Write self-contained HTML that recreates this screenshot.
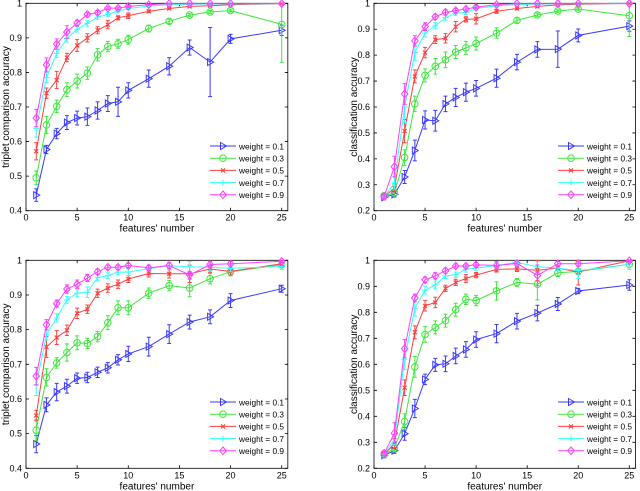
<!DOCTYPE html>
<html><head><meta charset="utf-8">
<style>
html,body{margin:0;padding:0;background:#fff;}
svg{display:block;font-family:"Liberation Sans",sans-serif;}
</style></head>
<body>
<svg id="fig" width="640" height="491" viewBox="0 0 640 491" xmlns="http://www.w3.org/2000/svg"></svg>
<script>
const xs = [1,2,3,4,5,6,7,8,9,10,12,14,16,18,20,25];
const seriesLabels = ["weight = 0.1","weight = 0.3","weight = 0.5","weight = 0.7","weight = 0.9"];
const xTicks = [0,5,10,15,20,25];

// top-left: triplet accuracy
const tl_w1 = [.445,.577,.623,.655,.668,.672,.69,.71,.715,.748,.782,.818,.872,.83,.897,.922];
const tl_w3 = [.495,.648,.702,.75,.775,.798,.851,.875,.883,.895,.927,.948,.966,.975,.979,.939];
const tl_w5 = [.572,.74,.778,.843,.878,.9,.922,.938,.958,.964,.977,.985,.991,.993,.996,.999];
const tl_w7 = [.638,.785,.855,.898,.925,.942,.96,.968,.978,.985,.992,.996,.997,.998,.998,.999];
const tl_w9 = [.668,.822,.882,.917,.943,.968,.973,.986,.986,.991,.996,.999,.999,.999,.999,.999];
const tl_e1 = [.018,.012,.015,.02,.02,.025,.025,.023,.042,.022,.025,.025,.022,.1,.013,.015];
const tl_e3 = [.02,.025,.018,.02,.02,.018,.018,.015,.013,.013,.01,.006,.004,.004,.004,.11];
const tl_e5 = [.025,.015,.025,.012,.017,.012,.01,.012,.006,.008,.004,.003,.003,.002,.002,.001];
const tl_e7 = [.025,.015,.012,.01,.008,.008,.006,.005,.004,.003,.002,.002,.001,.001,.001,.001];
const tl_e9 = [.025,.02,.015,.018,.008,.005,.006,.004,.004,.003,.002,.001,.001,.001,.001,.001];

// top-right: classification accuracy
const tr_w1 = [.252,.263,.33,.432,.55,.547,.612,.637,.657,.672,.711,.773,.822,.823,.876,.912];
const tr_w3 = [.258,.268,.405,.612,.722,.757,.782,.812,.828,.845,.885,.934,.955,.97,.978,.952];
const tr_w5 = [.253,.288,.507,.718,.81,.86,.865,.91,.938,.94,.969,.98,.988,.994,.996,1];
const tr_w7 = [.252,.308,.6,.81,.885,.913,.945,.962,.965,.98,.99,.995,.997,.998,.998,1];
const tr_w9 = [.255,.37,.65,.855,.91,.948,.965,.972,.978,.985,.995,.999,.999,.999,.999,.999];
const tr_e1 = [.008,.01,.025,.04,.035,.04,.03,.035,.035,.03,.035,.03,.03,.07,.025,.02];
const tr_e3 = [.01,.01,.03,.03,.025,.03,.03,.025,.025,.025,.02,.01,.007,.005,.005,.08];
const tr_e5 = [.008,.015,.045,.025,.02,.015,.018,.02,.01,.02,.008,.005,.004,.003,.002,.001];
const tr_e7 = [.008,.025,.06,.03,.015,.012,.01,.008,.008,.006,.004,.002,.002,.001,.001,.001];
const tr_e9 = [.008,.04,.04,.02,.015,.01,.01,.008,.008,.006,.004,.002,.001,.001,.001,.001];

// bottom-left: triplet accuracy
const bl_w1 = [.47,.583,.62,.637,.66,.662,.677,.69,.713,.73,.751,.787,.822,.837,.884,.918];
const bl_w3 = [.51,.662,.704,.734,.762,.76,.78,.82,.863,.863,.905,.927,.92,.947,.967,.987];
const bl_w5 = [.552,.75,.777,.798,.847,.859,.905,.92,.931,.946,.962,.961,.961,.975,.968,.99];
const bl_w7 = [.64,.785,.834,.886,.905,.908,.95,.956,.966,.966,.976,.984,.981,.98,.977,.982];
const bl_w9 = [.666,.814,.875,.917,.931,.949,.967,.98,.98,.985,.978,.985,.958,.988,.99,.997];
const bl_e1 = [.025,.02,.025,.02,.015,.015,.015,.015,.015,.022,.027,.027,.02,.02,.02,.01];
const bl_e3 = [.03,.025,.015,.025,.02,.015,.015,.02,.02,.02,.015,.015,.025,.015,.012,.008];
const bl_e5 = [.015,.03,.02,.015,.015,.012,.012,.012,.012,.01,.01,.012,.025,.01,.01,.005];
const bl_e7 = [.03,.015,.012,.01,.01,.015,.008,.008,.008,.01,.008,.01,.015,.01,.01,.008];
const bl_e9 = [.025,.015,.01,.012,.012,.01,.008,.006,.006,.006,.008,.008,.01,.008,.006,.004];

// bottom-right: classification accuracy
const br_w1 = [.25,.268,.333,.43,.542,.598,.602,.632,.657,.695,.718,.766,.797,.832,.882,.905];
const br_w3 = [.252,.278,.38,.59,.715,.742,.768,.81,.85,.845,.882,.915,.908,.952,.957,.985];
const br_w5 = [.253,.295,.51,.723,.825,.838,.892,.915,.93,.943,.965,.967,.962,.97,.955,.998];
const br_w7 = [.255,.31,.62,.815,.885,.905,.94,.945,.965,.97,.98,.992,.975,.97,.96,.985];
const br_w9 = [.258,.335,.66,.855,.925,.94,.96,.978,.978,.983,.98,.988,.942,.987,.987,.998];
const br_e1 = [.01,.01,.025,.035,.02,.025,.03,.03,.03,.03,.035,.03,.03,.025,.01,.02];
const br_e3 = [.01,.015,.03,.04,.03,.025,.025,.025,.02,.02,.035,.015,.06,.015,.01,.02];
const br_e5 = [.01,.02,.03,.025,.02,.02,.012,.012,.015,.01,.01,.01,.04,.01,.05,.005];
const br_e7 = [.01,.02,.04,.03,.015,.015,.01,.01,.01,.01,.01,.008,.02,.01,.03,.02];
const br_e9 = [.01,.04,.035,.015,.01,.012,.01,.008,.008,.008,.015,.01,.04,.008,.01,.005];

const colors = ["#3a3aff","#3ee83e","#ff4040","#3ff","#ff40ff"];
const markers = ["tri","circ","x","plus","diam"];
const NS = "http://www.w3.org/2000/svg";
const svg = document.getElementById("fig");

function mk(tag, attrs, parent){
  const e = document.createElementNS(NS, tag);
  for (const k in attrs) e.setAttribute(k, attrs[k]);
  (parent||svg).appendChild(e);
  return e;
}

function marker(g, type, x, y, c){
  let m;
  if (type==="tri") m = mk("polygon",{points:`${x-2.5},${y-3.5} ${x+3.5},${y} ${x-2.5},${y+3.5}`,fill:"none",stroke:c,"stroke-width":1},g);
  else if (type==="circ") m = mk("circle",{cx:x,cy:y,r:3.3,fill:"none",stroke:c,"stroke-width":1},g);
  else if (type==="x") m = mk("path",{d:`M${x-2},${y-2}L${x+2},${y+2}M${x-2},${y+2}L${x+2},${y-2}`,stroke:c,"stroke-width":1.2},g);
  else if (type==="plus") m = mk("path",{d:`M${x-3},${y}L${x+3},${y}M${x},${y-3}L${x},${y+3}`,stroke:c,"stroke-width":1},g);
  else m = mk("polygon",{points:`${x},${y-3.8} ${x+3.3},${y} ${x},${y+3.8} ${x-3.3},${y}`,fill:"none",stroke:c,"stroke-width":1},g);
  
  
}

function panel(id, px0, px25, top, bot, ymin, ticks, ylabel, series, errs, legX, legY){
  const g = mk("g",{});
  
  
  const sx = v => px0 + (px25-px0)*v/25;
  const sy = v => bot - (bot-top)*(v-ymin)/(1-ymin);
  const right = sx(25.6);
  const box = mk("rect",{x:px0,y:top,width:right-px0,height:bot-top,fill:"none",stroke:"#000","stroke-width":0.8},g);
  
  
  xTicks.forEach(t=>{
    const x = sx(t);
    mk("path",{d:`M${x},${bot}V${bot-3}M${x},${top}V${top+3}`,stroke:"#000","stroke-width":0.8},g);
    const tl = mk("text",{x:x,y:bot+10,"font-size":9,"text-anchor":"middle"},g);
    tl.textContent = t;
    
    
  });
  ticks.forEach(t=>{
    const y = sy(t);
    mk("path",{d:`M${px0},${y}H${px0+3}M${right},${y}H${right-3}`,stroke:"#000","stroke-width":0.8},g);
    const tl = mk("text",{x:px0-4,y:y+3,"font-size":9,"text-anchor":"end"},g);
    tl.textContent = t;
    
    
  });
  const xl = mk("text",{x:(px0+right)/2,y:bot+21,"font-size":10,"text-anchor":"middle"},g);
  xl.textContent = "features' number";
  
  
  const cy = (top+bot)/2;
  const yl = mk("text",{x:px0-17,y:cy,"font-size":10,"text-anchor":"middle",transform:`rotate(-90 ${px0-17} ${cy})`},g);
  yl.textContent = ylabel;
  
  
  series.forEach((vals,i)=>{
    const c = colors[i];
    const sg = mk("g",{},g);
    
    
    const pts = vals.map((v,j)=>`${sx(xs[j]).toFixed(1)},${sy(v).toFixed(1)}`).join(" ");
    const pl = mk("polyline",{points:pts,fill:"none",stroke:c,"stroke-width":1},sg);
    
    
    vals.forEach((v,j)=>{
      const x = sx(xs[j]), e = errs[i][j];
      const y1 = sy(Math.min(v+e,1.0)), y2 = sy(v-e);
      const eb = mk("path",{d:`M${x},${y1}V${y2}M${x-2},${y1}H${x+2}M${x-2},${y2}H${x+2}`,stroke:c,"stroke-width":1},sg);
      
      
      marker(sg, markers[i], x, sy(v), c);
    });
  });
  const lg = mk("g",{},g);
  
  
  seriesLabels.forEach((lab,i)=>{
    const y = legY + i*12.2;
    const le = mk("g",{},lg);
    
    
    mk("line",{x1:legX,x2:legX+26,y1:y,y2:y,stroke:colors[i],"stroke-width":1},le);
    marker(le, markers[i], legX+13, y, colors[i]);
    const t = mk("text",{x:legX+29,y:y+3.3,"font-size":8.5,textLength:45,lengthAdjust:"spacingAndGlyphs"},le);
    t.textContent = lab;
  });
}

panel("panel-top-left",26,281.7,3.3,210.7,0.4,[0.4,0.5,0.6,0.7,0.8,0.9,1],"triplet comparison accuracy",
  [tl_w1,tl_w3,tl_w5,tl_w7,tl_w9],[tl_e1,tl_e3,tl_e5,tl_e7,tl_e9],210,146);
panel("panel-top-right",374,629.3,3.3,210.7,0.2,[0.2,0.3,0.4,0.5,0.6,0.7,0.8,0.9,1],"classification accuracy",
  [tr_w1,tr_w3,tr_w5,tr_w7,tr_w9],[tr_e1,tr_e3,tr_e5,tr_e7,tr_e9],558,146);
panel("panel-bottom-left",26,281.7,260.3,468.3,0.4,[0.4,0.5,0.6,0.7,0.8,0.9,1],"triplet comparison accuracy",
  [bl_w1,bl_w3,bl_w5,bl_w7,bl_w9],[bl_e1,bl_e3,bl_e5,bl_e7,bl_e9],210,402);
panel("panel-bottom-right",374,629.3,260.3,468.3,0.2,[0.2,0.3,0.4,0.5,0.6,0.7,0.8,0.9,1],"classification accuracy",
  [br_w1,br_w3,br_w5,br_w7,br_w9],[br_e1,br_e3,br_e5,br_e7,br_e9],558,402);
</script>
</body></html>
